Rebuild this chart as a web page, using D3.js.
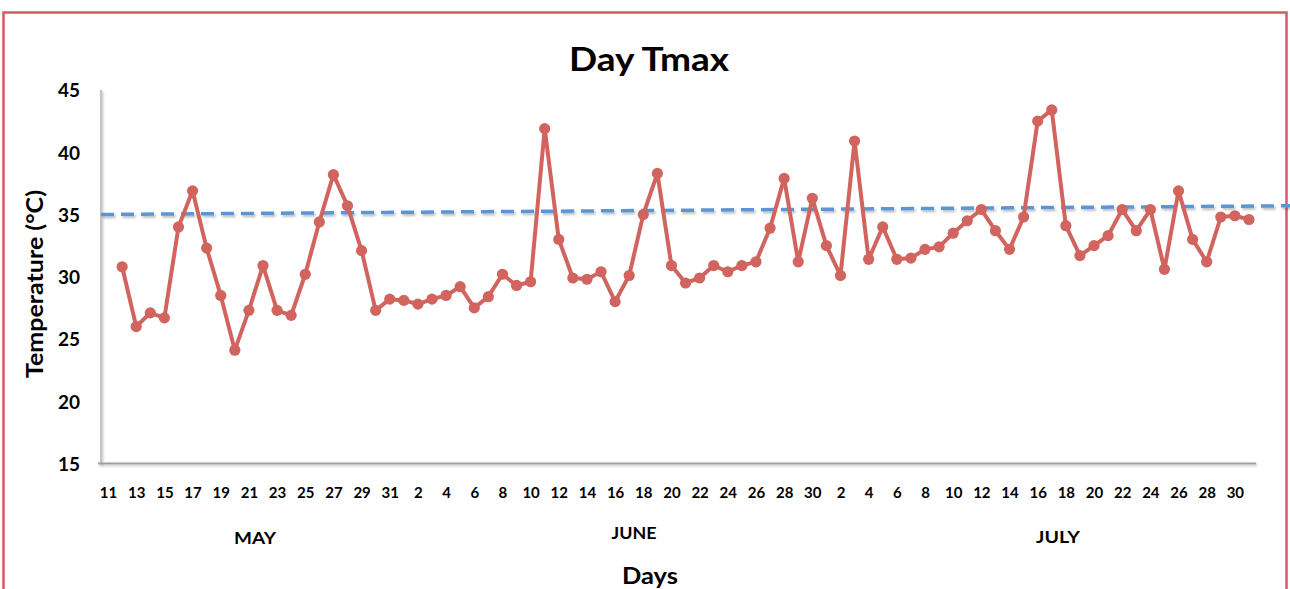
<!DOCTYPE html>
<html>
<head>
<meta charset="utf-8">
<script src="https://cdn.jsdelivr.net/npm/d3@7/dist/d3.min.js"></script>
<style>
  html, body { margin: 0; padding: 0; background: #fff; }
  svg { display: block; }
  text { font-family: Lato, "Open Sans", "DejaVu Sans", sans-serif; font-weight: bold; fill: #000; }
</style>
</head>
<body>
<svg id="chart" width="1290" height="589"></svg>
<script>
// ---- Data ----
const months = ["MAY", "JUNE", "JULY"];
const monthDays = [
  [11,12,13,14,15,16,17,18,19,20,21,22,23,24,25,26,27,28,29,30,31],
  [1,2,3,4,5,6,7,8,9,10,11,12,13,14,15,16,17,18,19,20,21,22,23,24,25,26,27,28,29,30],
  [1,2,3,4,5,6,7,8,9,10,11,12,13,14,15,16,17,18,19,20,21,22,23,24,25,26,27,28,29,30,31]
];
// Day Tmax (°C); May 11 has no value
const tmaxMay = [null, 30.8, 26.0, 27.1, 26.7, 34.0, 36.9, 32.3, 28.5, 24.1, 27.3, 30.9, 27.3, 26.9, 30.2, 34.4, 38.2, 35.7, 32.1, 27.3, 28.2];
const tmaxJune = [28.1, 27.8, 28.2, 28.5, 29.2, 27.5, 28.4, 30.2, 29.3, 29.6, 41.9, 33.0, 29.9, 29.8, 30.4, 28.0, 30.1, 35.0, 38.3, 30.9, 29.5, 29.9, 30.9, 30.4, 30.9, 31.2, 33.9, 37.9, 31.2, 36.3];
const tmaxJuly = [32.5, 30.1, 40.9, 31.4, 34.0, 31.4, 31.5, 32.2, 32.4, 33.5, 34.5, 35.4, 33.7, 32.2, 34.8, 42.5, 43.4, 34.1, 31.7, 32.5, 33.3, 35.4, 33.7, 35.4, 30.6, 36.9, 33.0, 31.2, 34.8, 34.9, 34.6];
// Dashed reference line (°C) at the left and right ends
const refLine = [35.0, 35.7];
const yTicks = [15, 20, 25, 30, 35, 40, 45];
const titleText = "Day Tmax";
const yTitle = "Temperature (°C)";
const xTitle = "Days";

// ---- Build rows ----
const allVals = [tmaxMay, tmaxJune, tmaxJuly];
const rows = [];
months.forEach((m, mi) => {
  monthDays[mi].forEach((d, di) => {
    rows.push({ key: m + "-" + d, month: m, day: d, value: allVals[mi][di] });
  });
});

// ---- Layout ----
const svg = d3.select("#chart");
const W = 1290, H = 589;
const plot = { left: 101, right: 1256, top: 90, bottom: 463.5 };

const x = d3.scalePoint()
  .domain(rows.map(r => r.key))
  .range([plot.left, plot.right])
  .padding(0.5);
const y = d3.scaleLinear().domain([15, 45]).range([plot.bottom, plot.top]);

const defs = svg.append("defs");
const sh = defs.append("filter").attr("id", "shadow").attr("filterUnits", "userSpaceOnUse")
  .attr("x", 0).attr("y", 0).attr("width", W).attr("height", H);
sh.append("feDropShadow").attr("dx", 1.5).attr("dy", 2).attr("stdDeviation", 1.2).attr("flood-color", "#000").attr("flood-opacity", 0.25);
const sh2 = defs.append("filter").attr("id", "shadow2").attr("filterUnits", "userSpaceOnUse")
  .attr("x", 0).attr("y", 0).attr("width", W).attr("height", H);
sh2.append("feDropShadow").attr("dx", 1.2).attr("dy", 1.5).attr("stdDeviation", 1).attr("flood-color", "#000").attr("flood-opacity", 0.25);

// Outer border
svg.append("rect")
  .attr("x", 3.5).attr("y", 12.5).attr("width", 1283).attr("height", 600)
  .attr("fill", "none").attr("stroke", "#d45b63").attr("stroke-width", 2.5);

// Title
svg.append("text").attr("x", 649).attr("y", 71).attr("text-anchor", "middle")
  .attr("textLength", 160).attr("lengthAdjust", "spacingAndGlyphs")
  .style("font-size", "32px").text(titleText);

// Axes lines
svg.append("line").attr("x1", plot.left).attr("x2", plot.left).attr("y1", plot.top).attr("y2", plot.bottom)
  .attr("stroke", "#c4c4c4").attr("stroke-width", 2).attr("filter", "url(#shadow2)");
svg.append("line").attr("x1", plot.left - 3).attr("x2", plot.right).attr("y1", plot.bottom).attr("y2", plot.bottom)
  .attr("stroke", "#a0a0a0").attr("stroke-width", 2).attr("filter", "url(#shadow2)");

// Y axis labels
const yAxis = d3.axisLeft(y).tickValues(yTicks).tickSize(0).tickPadding(21);
const gy = svg.append("g").attr("transform", `translate(${plot.left},0)`).call(yAxis);
gy.select(".domain").remove();
gy.selectAll("text").style("font-size", "19px").style("font-family", "Lato, 'Open Sans', sans-serif").attr("fill", "#000").attr("dy", "0.36em");

// X axis labels (every second day)
const xAxis = d3.axisBottom(x)
  .tickValues(rows.filter((r, i) => i % 2 === 0).map(r => r.key))
  .tickFormat(k => k.split("-")[1])
  .tickSize(0).tickPadding(24);
const gx = svg.append("g").attr("transform", `translate(0,${plot.bottom})`).call(xAxis);
gx.select(".domain").remove();
gx.selectAll("text").style("font-size", "15px").style("font-family", "Lato, 'Open Sans', sans-serif").attr("fill", "#000");

// Month labels
const monthPos = [{ m: "MAY", x: 255, y: 544, w: 42 }, { m: "JUNE", x: 634, y: 539, w: 45 }, { m: "JULY", x: 1058, y: 543, w: 44 }];
svg.selectAll(".month").data(monthPos).join("text")
  .attr("class", "month").attr("x", d => d.x).attr("y", d => d.y)
  .attr("textLength", d => d.w).attr("lengthAdjust", "spacingAndGlyphs")
  .attr("text-anchor", "middle").style("font-size", "17px").text(d => d.m);

// Axis titles
svg.append("text").attr("x", 650).attr("y", 584).attr("text-anchor", "middle")
  .attr("textLength", 56).attr("lengthAdjust", "spacingAndGlyphs")
  .style("font-size", "23px").text(xTitle);
svg.append("text").attr("transform", "translate(43,284) rotate(-90)").attr("text-anchor", "middle")
  .attr("textLength", 188).attr("lengthAdjust", "spacingAndGlyphs")
  .style("font-size", "22px").text(yTitle);

// Dashed reference line (from plot's left edge to the right edge of the picture)
svg.append("line")
  .attr("x1", plot.left).attr("x2", W)
  .attr("y1", y(refLine[0])).attr("y2", y(refLine[1]))
  .attr("stroke", "#5b95d3").attr("stroke-width", 3.5)
  .attr("stroke-dasharray", "13,7")
  .attr("filter", "url(#shadow)");

// Series line
const data = rows.filter(r => r.value !== null);
const line = d3.line().x(d => x(d.key)).y(d => y(d.value));
svg.append("path").datum(data)
  .attr("d", line).attr("fill", "none")
  .attr("stroke", "#d2645f").attr("stroke-width", 4).attr("stroke-linejoin", "round");
svg.selectAll(".pt").data(data).join("circle")
  .attr("class", "pt").attr("cx", d => x(d.key)).attr("cy", d => y(d.value))
  .attr("r", 5.6).attr("fill", "#d2645f");
</script>
</body>
</html>
